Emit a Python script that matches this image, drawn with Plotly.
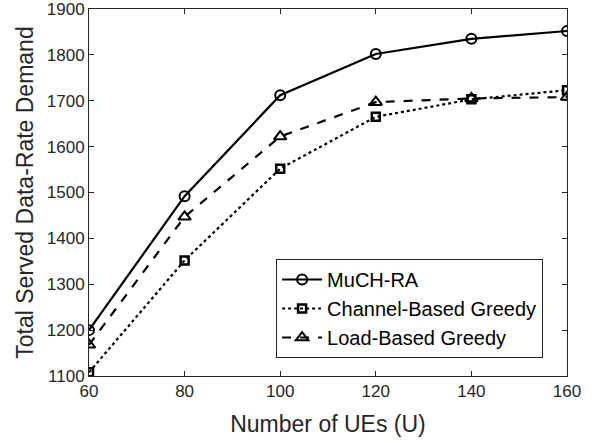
import plotly.graph_objects as go

x_ues = [60, 80, 100, 120, 140, 160]
much_ra = [1200, 1492, 1712, 1802, 1835, 1852]
channel_greedy = [1108, 1352, 1552, 1665, 1703, 1723]
load_greedy = [1168, 1447, 1622, 1697, 1705, 1708]

FONT = "Liberation Sans"
fig = go.Figure()
fig.add_trace(go.Scatter(x=x_ues, y=much_ra, name="MuCH-RA", mode="lines+markers",
                         line=dict(color="black", width=2.2, dash="solid"),
                         marker=dict(symbol="circle-open", size=10, color="black", line=dict(width=2))))
fig.add_trace(go.Scatter(x=x_ues, y=channel_greedy, name="Channel-Based Greedy", mode="lines+markers",
                         line=dict(color="black", width=2.2, dash="dot"),
                         marker=dict(symbol="square-open", size=8, color="black", line=dict(width=2.5))))
fig.add_trace(go.Scatter(x=x_ues, y=load_greedy, name="Load-Based Greedy", mode="lines+markers",
                         line=dict(color="black", width=2.2, dash="dash"),
                         marker=dict(symbol="triangle-up-open", size=11, color="black", line=dict(width=2))))

axis_common = dict(showgrid=False, zeroline=False, showline=True, linecolor="#262626", linewidth=1,
                   mirror="ticks", ticks="inside", ticklen=5, tickcolor="#262626", automargin=False,
                   ticklabeloverflow="allow",
                   tickfont=dict(family=FONT, size=17, color="#262626"))
fig.update_xaxes(range=[60, 160], tickvals=[60, 80, 100, 120, 140, 160],
                 title=dict(text="Number of UEs (U)", font=dict(family=FONT, size=23, color="#262626"), standoff=15),
                 **axis_common)
fig.update_yaxes(range=[1100, 1900], tickvals=[1100, 1200, 1300, 1400, 1500, 1600, 1700, 1800, 1900],
                 title=dict(text="Total Served Data-Rate Demand", font=dict(family=FONT, size=23, color="#262626"), standoff=6),
                 **axis_common)
fig.update_layout(
    width=596, height=443,
    margin=dict(l=89, r=29, t=9, b=67),
    plot_bgcolor="white", paper_bgcolor="white",
    showlegend=True,
    legend=dict(x=0.95, y=0.049, xanchor="right", yanchor="bottom",
                bordercolor="#262626", borderwidth=1, bgcolor="white",
                font=dict(family=FONT, size=20, color="black"),
                itemwidth=40, tracegroupgap=0),
)
fig.write_html("out.html", config={"displayModeBar": False},
               post_script="document.body.style.margin='0';document.body.style.padding='0';")
